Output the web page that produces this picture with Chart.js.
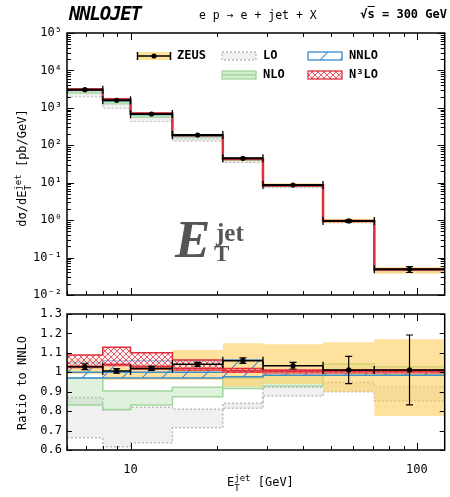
<!DOCTYPE html>
<html>
<head>
<meta charset="utf-8">
<script src="https://cdn.jsdelivr.net/npm/chart.js@4"></script>
<style>
  body { margin: 0; background: #fff; }
  #wrap { position: relative; width: 450px; height: 497px; overflow: hidden; font-family: 'DejaVu Sans Mono', monospace; color: #000; }
  canvas { position: absolute; left: 0; top: 0; }
  .lbl { position: absolute; white-space: nowrap; }
  .rot { transform: translate(-50%, -50%) rotate(-90deg); font-size: 12px; }
  .ej { position: relative; display: inline-block; }
  .ej .sp { font-size: 9px; position: relative; top: -5px; }
  .ej .sb { font-size: 9px; position: absolute; left: 0; top: 8px; }
</style>
</head>
<body>
<div id="wrap">
  <canvas id="main" width="450" height="497"></canvas>
  <canvas id="ratio" width="450" height="497"></canvas>

  <div class="lbl" style="left:69px; top:2px; font: italic bold 19px 'DejaVu Sans Mono'; letter-spacing:-1.2px;">NNLOJET</div>
  <div class="lbl" style="left:199px; top:8px; font-size:11.5px;">e p → e + jet + X</div>
  <div class="lbl" style="right:3px; top:7px; font-weight:bold; font-size:12px;">√<span style="text-decoration:overline">s</span> = 300 GeV</div>

  <div class="lbl rot" style="left:22px; top:168px;">dσ/dE<span class="ej"><span class="sp">jet</span><span class="sb">T</span></span> [pb/GeV]</div>
  <div class="lbl rot" style="left:22px; top:383px;">Ratio to NNLO</div>
  <div class="lbl" style="left:227px; top:475px; font-size:12px;">E<span class="ej"><span class="sp">jet</span><span class="sb">T</span></span> [GeV]</div>

  <div class="lbl" style="left:175px; top:209px; color:#555; font: italic bold 53px 'Liberation Serif';">E</div>
  <div class="lbl" style="left:216px; top:219px; color:#555; font: bold 25px 'Liberation Serif';">jet</div>
  <div class="lbl" style="left:214px; top:241px; color:#555; font: bold 23px 'Liberation Serif';">T</div>
</div>
<script>
// ---- data ----------------------------------------------------------
// E_T^jet bin edges [GeV]
const edges = [6, 8, 10, 14, 21, 29, 47, 71, 125];
// NNLO cross section dsigma/dE_T [pb/GeV]
const nnloXs = [2970, 1580, 672, 181, 42.4, 8.41, 0.939, 0.048];

// everything below is ratio to NNLO
const zeusR   = [1.029, 1.007, 1.020, 1.041, 1.060, 1.034, 1.012, 1.012];
const zeusErr = [0.015, 0.012, 0.010, 0.010, 0.014, 0.017, 0.070, 0.180];
const zeusSysHi = [1.07, 1.03, 1.04, 1.115, 1.150, 1.144, 1.155, 1.170];
const zeusSysLo = [0.99, 0.96, 0.96, 0.960, 0.926, 0.940, 0.900, 0.775];

const loHi  = [0.870, 0.806, 0.820, 0.810, 0.840, 0.923, 0.947, 0.926];
const loLo  = [0.663, 0.617, 0.637, 0.715, 0.815, 0.878, 0.900, 0.854];
const nloHi = [0.969, 0.904, 0.904, 0.923, 0.969, 0.985, 1.043, 1.029];
const nloLo = [0.831, 0.809, 0.831, 0.874, 0.917, 0.930, 0.995, 0.986];
const nnloHi = [1.050, 1.060, 1.060, 1.060, 1.063, 1.005, 1.005, 1.005];
const nnloLo = [0.970, 0.970, 0.970, 0.970, 0.977, 0.985, 0.985, 0.985];
const nnloC  = [1, 1, 1, 1, 1, 1, 1, 1];
const n3Hi = [1.089, 1.129, 1.101, 1.063, 1.020, 1.012, 1.012, 1.012];
const n3Lo = [1.025, 1.035, 1.017, 1.012, 1.000, 0.998, 0.998, 0.998];
const n3C  = [1.030, 1.040, 1.030, 1.020, 1.008, 1.005, 1.005, 1.005];

// ticks
const xTicks = [10, 100];
const yTicksTop = [1e-2, 1e-1, 1, 1e1, 1e2, 1e3, 1e4, 1e5];
const yTicksRatio = [0.6, 0.7, 0.8, 0.9, 1.0, 1.1, 1.2, 1.3];

// ---- helpers -------------------------------------------------------
const FONT = "'DejaVu Sans Mono', monospace";
const SUP = {'0':'⁰','1':'¹','2':'²','3':'³','4':'⁴','5':'⁵','6':'⁶','7':'⁷','8':'⁸','9':'⁹','-':'⁻'};

const cLO = '#b9b9b9', cNLO = '#9fd89a', cNNLO = '#3a8dd0', cN3LO = '#e0303c';
const fillLO = 'rgba(205,205,205,0.3)';
const fillNLO = 'rgba(160,215,150,0.32)';
const fillZEUS = 'rgba(253,205,90,0.6)';

function makePattern(size, draw) {
  const c = document.createElement('canvas');
  c.width = size; c.height = size;
  draw(c.getContext('2d'), size);
  return c.getContext('2d').createPattern(c, 'repeat');
}
const hatch = makePattern(20, (g, s) => {
  g.strokeStyle = cNNLO; g.lineWidth = 1.1;
  g.beginPath(); g.moveTo(-2, s + 2); g.lineTo(s + 2, -2); g.stroke();
});
const cross = makePattern(6, (g, s) => {
  g.fillStyle = 'rgba(255,235,238,0.6)'; g.fillRect(0, 0, s, s);
  g.strokeStyle = 'rgba(222,45,60,0.85)'; g.lineWidth = 0.9;
  g.beginPath();
  g.moveTo(0, 0); g.lineTo(s, s); g.moveTo(s, 0); g.lineTo(0, s);
  g.stroke();
});

function stepData(vals) {
  const pts = [];
  vals.forEach((v, i) => { pts.push({x: edges[i], y: v}, {x: edges[i + 1], y: v}); });
  return pts;
}
function segData(vals) {
  const pts = [];
  vals.forEach((v, i) => { pts.push({x: edges[i], y: v}, {x: edges[i + 1], y: v}, {x: edges[i + 1], y: null}); });
  return pts;
}
const centres = edges.slice(0, -1).map((e, i) => Math.sqrt(e * edges[i + 1]));

function line(data, color, width, extra) {
  return Object.assign({
    type: 'line', data, borderColor: color, borderWidth: width,
    pointRadius: 0, fill: false, tension: 0, spanGaps: false
  }, extra || {});
}

function buildSets(top) {
  const sc = arr => arr.map((r, i) => top ? r * nnloXs[i] : r);
  const bw = top ? 1 : 1.5;
  const sets = [
    line(stepData(sc(loLo)), cLO, bw, {borderDash: [2, 2]}),
    line(stepData(sc(loHi)), cLO, bw, {borderDash: [2, 2], fill: '-1', backgroundColor: fillLO}),
    line(stepData(sc(nloLo)), cNLO, bw),
    line(stepData(sc(nloHi)), cNLO, bw, {fill: '-1', backgroundColor: fillNLO}),
    line(stepData(sc(zeusSysLo)), 'rgba(0,0,0,0)', 0),
    line(stepData(sc(zeusSysHi)), 'rgba(0,0,0,0)', 0, {fill: '-1', backgroundColor: fillZEUS}),
    line(stepData(sc(nnloLo)), cNNLO, bw),
    line(stepData(sc(nnloHi)), cNNLO, bw, {fill: '-1', backgroundColor: hatch}),
    line(stepData(sc(nnloC)), cNNLO, 1.5),
    line(stepData(sc(n3Lo)), cN3LO, bw),
    line(stepData(sc(n3Hi)), cN3LO, bw, {fill: '-1', backgroundColor: cross}),
    line(stepData(sc(n3C)), cN3LO, top ? 2.5 : 2)
  ];
  // ZEUS: horizontal bin lines with end caps
  sets.push(line(segData(sc(zeusR)), '#000', top ? 2 : 1.5, {
    pointRadius: 4, pointStyle: 'line', pointRotation: 90,
    pointBorderColor: '#000', pointBorderWidth: 1.3
  }));
  // ZEUS error bars
  const err = [];
  zeusR.forEach((r, i) => {
    const f = top ? nnloXs[i] : 1;
    err.push({x: centres[i], y: (r - zeusErr[i]) * f}, {x: centres[i], y: (r + zeusErr[i]) * f}, {x: centres[i], y: null});
  });
  sets.push(line(err, '#000', 1.2, {
    pointRadius: 3.5, pointStyle: 'line', pointRotation: 0,
    pointBorderColor: '#000', pointBorderWidth: 1.2
  }));
  // ZEUS points
  sets.push(line(zeusR.map((r, i) => ({x: centres[i], y: top ? r * nnloXs[i] : r})), '#000', 0, {
    showLine: false, pointRadius: 2.6, pointStyle: 'circle',
    pointBackgroundColor: '#000', pointBorderWidth: 0
  }));
  // later datasets on top
  sets.forEach((d, i) => { d.order = -i; });
  return sets;
}

function logTicks(min, max) {
  const out = [];
  for (let e = Math.floor(Math.log10(min)); e <= Math.ceil(Math.log10(max)); e++) {
    for (let k = 1; k <= 9; k++) {
      const v = k * Math.pow(10, e);
      if (v >= min * 0.999 && v <= max * 1.001) out.push({v, major: k === 1});
    }
  }
  return out;
}

// inward ticks on all four sides + frame
const frameTicks = {
  id: 'frameTicks',
  afterDatasetsDraw(chart) {
    const {ctx, chartArea: a} = chart;
    const xs = chart.scales.x, ys = chart.scales.y;
    ctx.save();
    ctx.strokeStyle = '#000';
    ctx.lineWidth = 1;
    ctx.beginPath();
    logTicks(xs.min, xs.max).forEach(t => {
      const p = Math.round(xs.getPixelForValue(t.v)) + 0.5;
      const L = t.major ? 7 : 4;
      ctx.moveTo(p, a.bottom); ctx.lineTo(p, a.bottom - L);
      ctx.moveTo(p, a.top); ctx.lineTo(p, a.top + L);
    });
    const yt = ys.type === 'logarithmic' ? logTicks(ys.min, ys.max) : yTicksRatio.map(v => ({v, major: true}));
    yt.forEach(t => {
      const p = Math.round(ys.getPixelForValue(t.v)) + 0.5;
      const L = t.major ? (ys.type === 'logarithmic' ? 7 : 5) : 4;
      ctx.moveTo(a.left, p); ctx.lineTo(a.left + L, p);
      ctx.moveTo(a.right, p); ctx.lineTo(a.right - L, p);
    });
    ctx.stroke();
    ctx.lineWidth = 1.5;
    ctx.strokeRect(a.left, a.top, a.right - a.left, a.bottom - a.top);
    ctx.restore();
  }
};

// legend in the upper panel
const legendBox = {
  id: 'legendBox',
  afterDraw(chart) {
    const ctx = chart.ctx;
    ctx.save();
    ctx.font = 'bold 12px ' + FONT;
    ctx.textBaseline = 'middle';
    ctx.fillStyle = '#000';
    const W = 34, H = 8;
    function box(x, y, fill, stroke, dash) {
      ctx.fillStyle = fill; ctx.fillRect(x, y - H / 2, W, H);
      if (stroke) {
        ctx.strokeStyle = stroke; ctx.lineWidth = 1.3; ctx.setLineDash(dash || []);
        ctx.strokeRect(x, y - H / 2, W, H); ctx.setLineDash([]);
      }
    }
    function text(s, x, y) { ctx.fillStyle = '#000'; ctx.fillText(s, x, y); }
    // ZEUS
    box(137, 56, fillZEUS);
    ctx.strokeStyle = '#000'; ctx.lineWidth = 1.5;
    ctx.beginPath();
    ctx.moveTo(137, 56); ctx.lineTo(171, 56);
    ctx.moveTo(137.5, 52); ctx.lineTo(137.5, 60);
    ctx.moveTo(170.5, 52); ctx.lineTo(170.5, 60);
    ctx.stroke();
    ctx.beginPath(); ctx.arc(154, 56, 2.6, 0, Math.PI * 2); ctx.fillStyle = '#000'; ctx.fill();
    text('ZEUS', 177, 56);
    // LO / NLO
    box(222, 56, fillLO, cLO, [2, 2]);
    text('LO', 263, 56);
    box(222, 75, 'rgba(160,215,150,0.45)', cNLO);
    ctx.strokeStyle = cNLO; ctx.beginPath(); ctx.moveTo(222, 75); ctx.lineTo(256, 75); ctx.stroke();
    text('NLO', 263, 75);
    // NNLO / N3LO
    box(308, 56, hatch, cNNLO);
    text('NNLO', 349, 56);
    box(308, 75, cross, cN3LO);
    text('N³LO', 349, 75);
    ctx.restore();
  }
};

function common(padding) {
  return {
    responsive: false, animation: false, events: [],
    layout: {padding},
    plugins: {legend: {display: false}, tooltip: {enabled: false}}
  };
}
const tickFont = {family: FONT, size: 12};

// ---- upper panel ----------------------------------------------------
const mainOpts = common({top: 33, bottom: 202, right: 2, left: 0});
mainOpts.scales = {
  x: {type: 'logarithmic', min: 6, max: 125, display: false},
  y: {
    type: 'logarithmic', min: 1e-2, max: 1e5,
    grid: {display: false, drawTicks: false}, border: {display: false},
    afterFit: s => { s.width = 67; },
    afterBuildTicks: s => { s.ticks = yTicksTop.map(v => ({value: v})); },
    ticks: {
      padding: 5, color: '#000', font: tickFont, autoSkip: false,
      callback: v => '10' + String(Math.round(Math.log10(v))).split('').map(c => SUP[c]).join('')
    }
  }
};
new Chart(document.getElementById('main'), {
  type: 'line',
  data: {datasets: buildSets(true)},
  options: mainOpts,
  plugins: [frameTicks, legendBox]
});

// ---- ratio panel ------------------------------------------------------
const ratioOpts = common({top: 314, bottom: 0, right: 2, left: 0});
ratioOpts.scales = {
  x: {
    type: 'logarithmic', min: 6, max: 125,
    grid: {display: false, drawTicks: false}, border: {display: false},
    afterFit: s => { s.height = 47; },
    afterBuildTicks: s => { s.ticks = xTicks.map(v => ({value: v})); },
    ticks: {padding: 13, color: '#000', font: tickFont, autoSkip: false, maxRotation: 0, callback: v => String(v)}
  },
  y: {
    type: 'linear', min: 0.6, max: 1.3,
    grid: {display: false, drawTicks: false}, border: {display: false},
    afterFit: s => { s.width = 67; },
    afterBuildTicks: s => { s.ticks = yTicksRatio.map(v => ({value: v})); },
    ticks: {padding: 5, color: '#000', font: tickFont, autoSkip: false, callback: v => (Math.abs(v - 1) < 1e-9 ? '1' : v.toFixed(1))}
  }
};
new Chart(document.getElementById('ratio'), {
  type: 'line',
  data: {datasets: buildSets(false)},
  options: ratioOpts,
  plugins: [frameTicks]
});
</script>
</body>
</html>
